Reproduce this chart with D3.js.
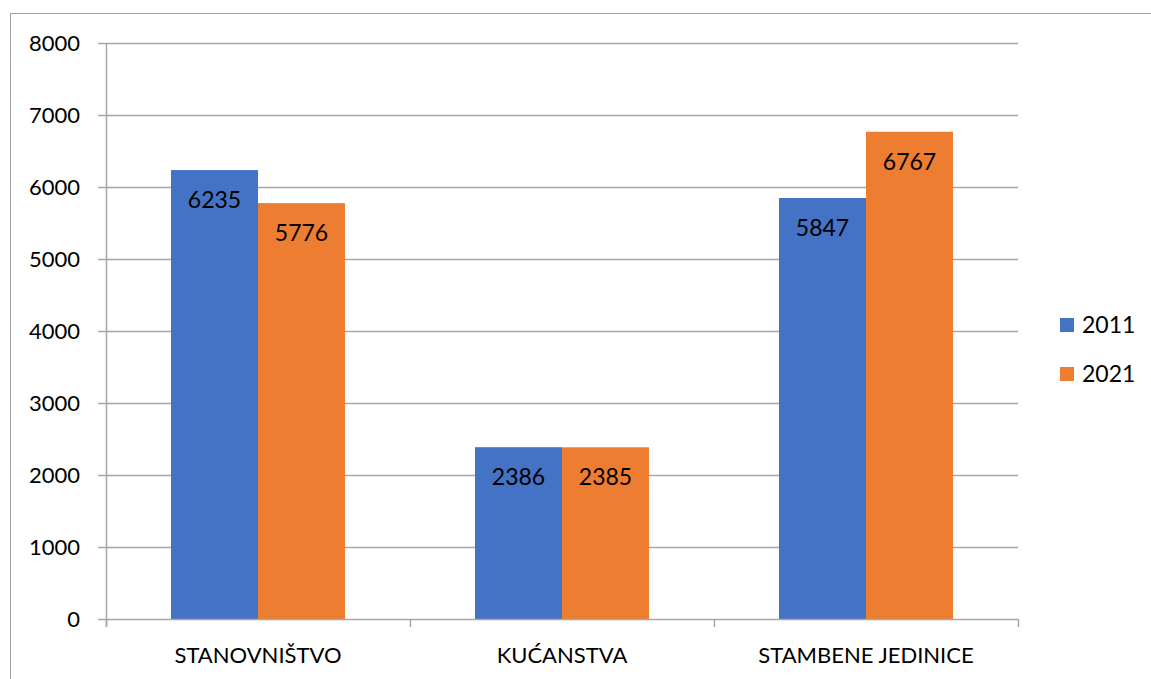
<!DOCTYPE html>
<html>
<head>
<meta charset="utf-8">
<script src="https://cdn.jsdelivr.net/npm/d3@7"></script>
<style>
  body { margin: 0; background: #fff; }
  text { font-family: Lato, "Open Sans", sans-serif; fill: #000; }
</style>
</head>
<body>
<svg id="chart" width="1151" height="679"></svg>
<script>
const categories = ['STANOVNIŠTVO', 'KUĆANSTVA', 'STAMBENE JEDINICE'];
const years = ['2011', '2021'];
const values2011 = [6235, 2386, 5847];
const values2021 = [5776, 2385, 6767];
const yTicks = [0, 1000, 2000, 3000, 4000, 5000, 6000, 7000, 8000];
const colors = ['#4472c4', '#ed7d31'];

const svg = d3.select('#chart');
const margin = { left: 106, right: 1018, top: 43, bottom: 619 };

// outer chart border (runs past the right and bottom edges)
svg.append('rect')
  .attr('x', 10.5).attr('y', 13.5)
  .attr('width', 1200).attr('height', 700)
  .attr('fill', 'none').attr('stroke', '#a0a0a0');

const x0 = d3.scaleBand().domain(categories).range([margin.left, margin.right]).paddingInner(0).paddingOuter(0);
const x1 = d3.scaleBand().domain(years).range([65, x0.bandwidth() - 65]);
const y = d3.scaleLinear().domain([0, 8000]).range([margin.bottom, margin.top]);

// gridlines
svg.append('g').selectAll('line')
  .data(yTicks.filter(d => d > 0))
  .join('line')
  .attr('x1', margin.left - 8).attr('x2', margin.right)
  .attr('y1', d => Math.round(y(d)) + 0.5).attr('y2', d => Math.round(y(d)) + 0.5)
  .attr('stroke', '#a6a6a6').attr('stroke-width', 1.5);

const series = [values2011, values2021];
const bars = svg.append('g');
categories.forEach((c, i) => {
  years.forEach((yr, j) => {
    const v = series[j][i];
    const bx = x0(c) + x1(yr);
    bars.append('rect')
      .attr('x', bx).attr('y', y(v))
      .attr('width', x1.bandwidth()).attr('height', y(0) - y(v))
      .attr('fill', colors[j]);
    bars.append('text')
      .attr('x', bx + x1.bandwidth() / 2).attr('y', y(v) + 30)
      .attr('dy', '0.35em')
      .attr('text-anchor', 'middle').attr('font-size', 23)
      .text(v);
  });
});

// y axis line + ticks
const axisG = svg.append('g');
axisG.append('line')
  .attr('x1', margin.left + 0.5).attr('x2', margin.left + 0.5)
  .attr('y1', margin.top).attr('y2', margin.bottom + 8)
  .attr('stroke', '#a6a6a6').attr('stroke-width', 1.5);
axisG.append('line')
  .attr('x1', margin.left - 8).attr('x2', margin.right)
  .attr('y1', margin.bottom + 0.5).attr('y2', margin.bottom + 0.5)
  .attr('stroke', '#a6a6a6').attr('stroke-width', 1.5);
axisG.selectAll('.ctick')
  .data(categories.map(c => x0(c)).concat([margin.right]))
  .join('line')
  .attr('x1', d => d + 0.5).attr('x2', d => d + 0.5)
  .attr('y1', margin.bottom).attr('y2', margin.bottom + 8)
  .attr('stroke', '#a6a6a6').attr('stroke-width', 1.5);

axisG.selectAll('.ylab')
  .data(yTicks)
  .join('text')
  .attr('x', 80).attr('y', d => y(d))
  .attr('dy', '0.35em').attr('text-anchor', 'end').attr('font-size', 22)
  .text(d => d);

axisG.selectAll('.xlab')
  .data(categories)
  .join('text')
  .attr('x', d => x0(d) + x0.bandwidth() / 2).attr('y', 655)
  .attr('dy', '0.35em').attr('text-anchor', 'middle').attr('font-size', 22)
  .text(d => d);

// legend
const legend = svg.append('g');
years.forEach((yr, j) => {
  const ly = 325 + j * 49;
  legend.append('rect')
    .attr('x', 1060).attr('y', ly - 7).attr('width', 14).attr('height', 14)
    .attr('fill', colors[j]);
  legend.append('text')
    .attr('x', 1082).attr('y', ly).attr('dy', '0.35em').attr('font-size', 23)
    .text(yr);
});
</script>
</body>
</html>
